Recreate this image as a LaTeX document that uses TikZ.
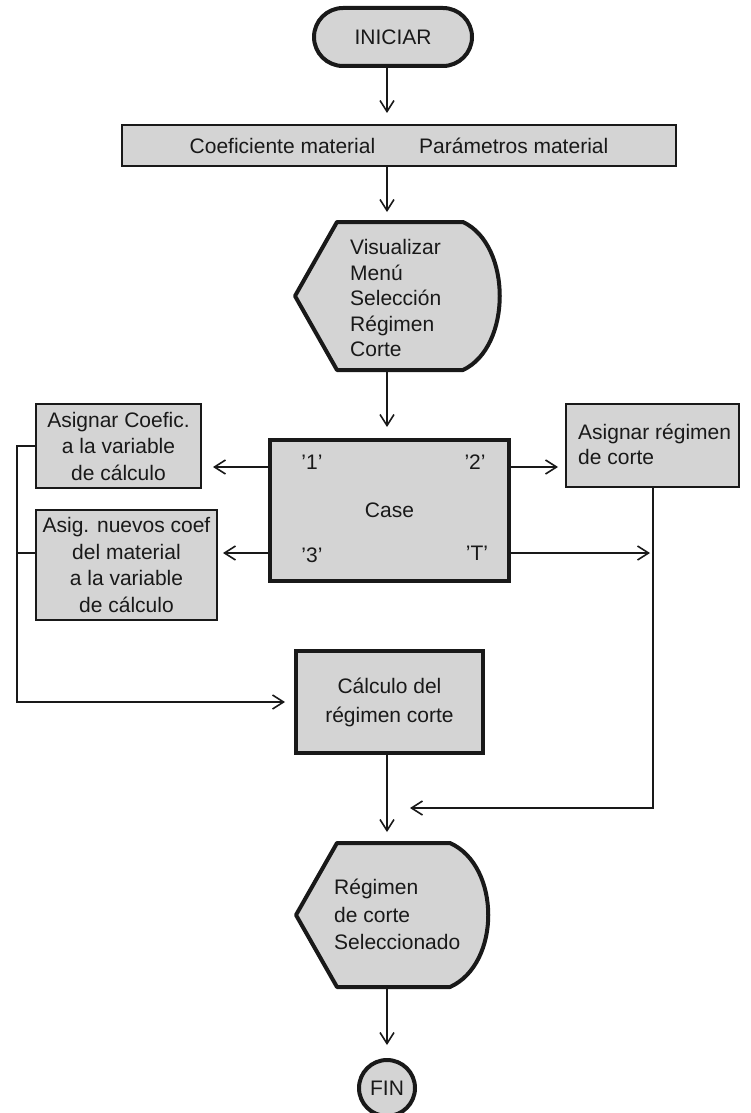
\documentclass[tikz,border=0pt]{standalone}
\usepackage{fontspec}
\setmainfont{Liberation Sans}
\usetikzlibrary{arrows.meta,calc}
\definecolor{boxfill}{RGB}{212,212,212}
\definecolor{ink}{RGB}{25,25,25}

\begin{document}
\begin{tikzpicture}[x=1pt,y=-1pt,
  every node/.style={font=\fontsize{21}{26.5}\selectfont, text=ink},
  thinbox/.style={draw=ink, fill=boxfill, line width=2pt, inner sep=0pt},
  thickbox/.style={draw=ink, fill=boxfill, line width=4pt, inner sep=0pt},
  shapeline/.style={draw=ink, fill=boxfill, line width=4pt, line join=round},
  holder/.style={inner sep=0pt, outer sep=0pt},
  lbl/.style={inner sep=0pt},
  link/.style={draw=ink, line width=1.6pt},
  arr/.style={link, -{Straight Barb[length=11pt,width=14pt]}}
]
\useasboundingbox (0,0) rectangle (751,1113);

% main flow axis
\coordinate (ax) at (387,0);

% start terminal
\node[thickbox, rounded corners=29pt, minimum width=158pt, minimum height=58pt] (start) at (393,37) {INICIAR};

% material data
\node[thinbox, minimum width=554pt, minimum height=41pt] (coef) at (399,145.5)
  {Coeficiente material\hspace{44pt}Parámetros material};

% display: menu
\path[shapeline] (337,222) -- (463,222) .. controls (512,245) and (512,347) .. (463,370)
  -- (337,370) -- (295,296) -- cycle;
\node[holder, minimum width=205pt, minimum height=148pt] (vis) at (397.5,296) {};
\node[lbl, align=left, anchor=west, font=\fontsize{21}{25.5}\selectfont] (vistext) at (350,298)
  {Visualizar\\Menú\\Selección\\Régimen\\Corte};

% case selector
\node[thickbox, minimum width=239pt, minimum height=141pt] (case) at (389.5,510.5) {Case};
\node[lbl] (c1) at (312,462) {'1'};
\node[lbl] (c2) at (475,462) {'2'};
\node[lbl] (c3) at (312,555) {'3'};
\node[lbl] (cT) at (477,553) {'T'};

% assignment boxes
\node[thinbox, minimum width=165pt, minimum height=84pt, align=center] (asig1) at (118.5,446)
  {Asignar Coefic.\\a la variable\\de cálculo};
\node[thinbox, minimum width=181pt, minimum height=110pt, align=center] (asig3) at (126.5,565)
  {Asig. nuevos coef\\del material\\a la variable\\de cálculo};
\node[thinbox, minimum width=173pt, minimum height=83pt] (asig2) at (652.5,445.5) {};
\node[lbl, align=left, anchor=west, font=\fontsize{21}{25}\selectfont] (asig2text) at (578,444.5)
  {Asignar régimen\\de corte};

% computation
\node[thickbox, minimum width=187pt, minimum height=102pt, align=center, font=\fontsize{21}{29}\selectfont] (calc) at (389.5,702)
  {Cálculo del\\régimen corte};

% display: result
\path[shapeline] (337,843) -- (450,843) .. controls (501,866) and (501,964) .. (450,987)
  -- (337,987) -- (296,915) -- cycle;
\node[holder, minimum width=192pt, minimum height=144pt] (reg) at (392,915) {};
\node[lbl, align=left, anchor=west, font=\fontsize{21}{27.5}\selectfont] (regtext) at (334,914.5)
  {Régimen\\de corte\\Seleccionado};

% end terminal
\node[thickbox, circle, minimum size=56pt] (fin) at (387,1088) {FIN};

% connectors
\coordinate (r1) at (0,467);
\coordinate (r3) at (0,553);
\coordinate (rb) at (653,808);
\coordinate (lb) at (17,702);

\draw[arr, shorten >=11pt] (start.south -| ax) -- (coef.north -| ax);
\draw[arr, shorten >=10pt] (coef.south -| ax) -- (vis.north -| ax);
\draw[arr, shorten >=11pt] (vis.south -| ax) -- (case.north -| ax);

\draw[arr, shorten >=11pt] (case.west |- r1) -- (asig1.east |- r1);
\draw[arr, shorten >=5pt] (case.west |- r3) -- (asig3.east |- r3);
\draw[arr, shorten >=7pt] (case.east |- r1) -- (asig2.west |- r1);
\draw[arr, shorten >=3pt] (case.east |- r3) -- (rb |- r3);

\draw[arr, shorten >=23pt] (asig2.south -| rb) -- (rb) -- (ax |- rb);

\draw[arr, shorten >=9pt] (asig1.west) -- (asig1.west -| lb) -- (lb) -- (calc.west);
\draw[link] (asig3.west |- r3) -- (lb |- r3);

\draw[arr, shorten >=11pt] (calc.south -| ax) -- (reg.north -| ax);
\draw[arr, shorten >=13pt] (reg.south -| ax) -- (fin.north);
\end{tikzpicture}
\end{document}
